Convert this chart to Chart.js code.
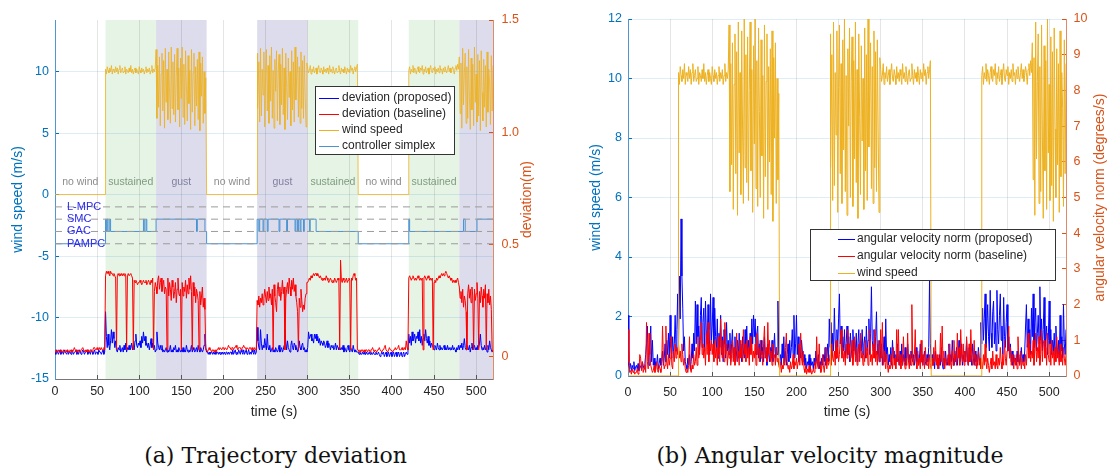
<!DOCTYPE html>
<html>
<head>
<meta charset="utf-8">
<script src="https://cdn.jsdelivr.net/npm/chart.js@4.4.1/dist/chart.umd.min.js"></script>
<style>
html, body { margin: 0; padding: 0; background: #fff; }
body { width: 1107px; height: 471px; position: relative; overflow: hidden; }
canvas { position: absolute; top: 0; }
#cA { left: 0; }
#cB { left: 553px; }
.cap { position: absolute; font-family: "DejaVu Serif", serif; font-size: 22px; line-height: 22px;
       color: #111; white-space: nowrap; transform: translateX(-50%); }
</style>
</head>
<body>
<canvas id="cA" width="553" height="430"></canvas>
<canvas id="cB" width="554" height="430"></canvas>
<div class="cap" style="left:275.5px; top:445px;">(a) Trajectory deviation</div>
<div class="cap" style="left:830px; top:445px;">(b) Angular velocity magnitude</div>
<script>
// ---------- time axis ----------
const timeMax = 520;
const timeTickStep = 50;

// ---------- wind profile (m/s), one sample per second ----------
const windSustained1 = [ // 60-119 s
  10.2,9.8,10.4,10.1,9.9,10.3,10.0,10.5,9.8,10.2, 10.1,9.9,10.4,10.0,10.3,9.8,10.2,10.5,9.9,10.1,
  10.3,9.9,10.0,10.4,9.8,10.2,10.1,9.9,10.3,10.0, 10.5,9.9,10.2,9.8,10.1,10.3,9.9,10.2,10.0,9.8,
  10.4,10.1,9.9,10.3,10.0,10.2,9.8,10.1,10.4,9.9, 10.2,10.0,10.3,9.8,10.1,10.5,9.9,10.2,10.0,10.3];
const windGust1 = [ // 120-179 s
  11.8,6.2,10.5,7.1,11.2,5.6,9.8,11.5,6.8,10.9, 5.4,11.9,7.5,10.2,6.1,11.6,8.3,5.8,12.0,7.0,
  10.8,6.5,11.4,5.9,9.6,11.9,6.9,10.3,5.5,11.1, 7.8,12.0,6.3,10.6,5.7,11.7,8.9,6.0,11.3,7.4,
  10.1,5.3,11.8,6.7,9.9,11.5,5.6,10.4,7.2,11.0, 6.1,11.6,5.2,10.7,8.0,11.2,5.8,10.0,6.6,9.5];
const windGust2 = [ // 240-299 s
  11.5,7.0,10.8,5.9,11.9,6.4,10.2,8.1,11.6,5.5, 9.7,11.8,6.8,10.5,5.8,11.3,7.6,12.0,6.2,10.1,
  5.4,11.0,8.4,11.7,6.0,9.9,11.4,5.7,10.6,7.3, 11.9,6.5,10.3,5.3,11.5,8.7,6.1,11.1,7.9,10.0,
  5.6,11.7,6.9,10.8,5.9,12.0,7.7,9.6,11.2,6.3, 10.4,5.8,11.6,7.0,10.9,6.2,11.3,8.2,5.5,10.7];
const windSustained2 = [ // 300-359 s
  10.3,9.9,10.1,10.5,9.8,10.2,10.0,10.4,9.9,10.1, 10.3,9.8,10.2,10.5,10.0,9.9,10.3,10.1,9.8,10.4,
  10.0,10.2,9.9,10.3,10.1,9.8,10.5,10.0,10.2,9.9, 10.4,10.1,9.8,10.2,10.3,9.9,10.0,10.5,10.1,9.8,
  10.3,10.0,10.2,9.9,10.4,10.1,9.8,10.3,10.0,10.2, 9.9,10.5,10.1,10.3,9.8,10.2,10.4,10.0,10.3,10.6];
const windSustained3 = [ // 420-479 s
  10.1,10.4,9.8,10.2,10.0,10.5,9.9,10.3,10.1,9.8, 10.2,10.4,10.0,9.9,10.3,10.1,10.5,9.8,10.2,10.0,
  10.4,9.9,10.1,10.3,9.8,10.2,10.5,10.0,9.9,10.3, 10.1,10.4,9.8,10.2,10.0,10.3,9.9,10.5,10.1,10.2,
  9.8,10.3,10.0,10.4,10.1,9.9,10.2,10.5,10.0,10.3, 9.9,10.1,10.4,10.2,9.8,10.3,10.5,10.1,10.6,10.2];
const windGust3 = [ // 480-520 s
  11.2,6.6,10.7,5.4,11.9,7.3,9.9,11.5,5.8,10.4, 6.2,11.8,8.0,5.3,11.1,6.9,10.6,5.6,12.0,7.5,
  9.8,5.9,11.4,6.4,10.9,5.2,11.7,8.3,6.0,11.0, 7.1,10.5,5.5,11.6,6.7,10.2,9.0,5.7,11.3,6.8,10.5];
const calmStarts = [0, 180, 360];   // no-wind phases, 60 s each
const calmLength = 60;

// ---------- test phases ----------
const phaseStarts = [0, 60, 120, 180, 240, 300, 360, 420, 480];
const phaseEnds   = [60, 120, 180, 240, 300, 360, 420, 480, 520];
const phaseKinds  = ['calm','sustained','gust','calm','gust','sustained','calm','sustained','gust'];
const phaseLabels = ['no wind','sustained','gust','no wind','gust','sustained','no wind','sustained',''];

// ---------- controller simplex (change points) ----------
const controllerNames  = ['L-MPC', 'SMC', 'GAC', 'PAMPC'];
const controllerLevels = [-1, -2, -3, -4];
const simplexTimes  = [0,60,61,62,63,65,66,105,106,108,109,120,168,169,178,180,
                       240,242,243,247,248,252,253,266,267,275,276,285,286,288,289,291,292,295,296,302,303,310,
                       360,420,421,485,487,501,520];
const simplexLevels = [-4,-2,-3,-2,-3,-2,-3,-2,-3,-2,-3,-2,-3,-2,-3,-4,
                       -2,-3,-2,-3,-2,-3,-2,-3,-2,-3,-2,-3,-2,-3,-2,-3,-2,-3,-2,-3,-2,-3,
                       -4,-2,-3,-2,-3,-2,-2];

// ---------- trajectory deviation (cm), one sample per second, 0-520 s ----------
const devProposedCm = [
  2,1,3,2,1,2,3,1,2,2, 1,3,2,2,1,3,1,2,2,1, 3,2,1,2,2,3,1,2,1,3, 2,1,2,3,2,1,2,2,3,1,
  2,2,1,3,2,1,2,3,1,2, 2,1,3,2,2,1,2,3,1,2, 20,9,4,10,5,3,7,12,6,11, 8,4,7,3,2,4,3,5,2,3,
  4,2,5,3,6,2,4,3,5,3, 4,6,3,5,3,7,10,5,4,6, 5,7,4,9,6,11,7,9,5,6, 4,6,3,5,8,4,6,3,5,2,
  3,11,6,4,3,5,3,5,2,3, 2,3,4,2,3,2,3,5,2,3, 2,4,3,5,2,3,2,4,3,2, 3,2,4,2,3,2,5,3,2,3,
  2,3,5,2,4,3,2,3,4,2, 5,3,2,4,3,2,3,5,10,4, 2,2,1,2,1,2,2,1,2,1, 2,1,2,2,1,2,1,2,1,2,
  1,2,1,2,2,1,2,1,2,2, 1,3,1,2,3,1,2,1,3,2, 1,3,2,1,3,1,2,3,1,2, 3,1,2,1,3,2,1,3,1,2,
  13,7,4,3,12,6,3,5,4,8, 5,3,10,4,3,5,2,3,4,2, 3,2,4,3,2,3,5,2,3,4, 2,3,5,12,6,3,7,4,3,2,
  5,7,4,3,6,5,3,4,2,3, 7,4,3,5,6,3,4,2,3,2, 4,11,8,9,10,7,8,6,10,8, 10,7,9,6,8,5,7,6,5,7,
  6,4,5,7,4,6,5,3,5,4, 5,3,4,6,3,5,4,3,4,3, 4,3,5,2,4,3,2,4,5,3, 2,4,3,2,5,3,2,3,2,2,
  2,1,2,1,1,2,1,2,1,1, 2,1,1,2,1,2,1,1,2,1, 1,2,1,1,2,1,0,1,2,1, 2,0,1,2,0,1,2,0,1,2,
  0,1,2,0,1,2,0,1,2,0, 1,2,0,1,2,0,1,2,1,2, 10,6,9,5,11,7,8,10,6,9, 8,11,7,12,6,9,5,8,10,7,
  12,8,6,9,5,7,4,6,5,4, 3,5,4,3,6,4,3,5,3,4, 3,4,5,3,4,3,5,3,4,3, 4,3,5,3,4,3,2,4,3,5,
  3,5,4,6,3,5,8,4,3,5, 4,3,5,2,4,6,3,4,5,3, 4,3,5,4,6,10,5,3,4,3, 5,3,4,2,5,3,7,4,3,2, 3];
const devBaselineCm = [
  2,3,2,2,3,2,2,3,2,2, 3,2,2,3,2,3,2,2,3,2, 3,2,3,4,3,2,3,2,3,2, 2,3,3,4,3,2,3,2,3,2,
  3,2,3,3,2,3,4,4,3,3, 4,3,3,4,3,4,3,3,4,3, 36,38,37,38,37,36,38,37,37,36, 37,36,35,3,36,37,36,37,36,37,
  36,37,36,37,36,3,36,37,36,36, 37,36,35,3,34,33,34,33,32,33, 33,34,33,32,33,34,33,33,34,32, 33,34,33,32,34,33,35,3,29,33,
  31,28,34,36,30,33,35,29,32,34, 28,31,30,3,35,27,33,30,25,34, 31,26,29,33,24,30,35,28,27,30, 3,33,27,31,29,34,26,32,28,35,
  30,36,29,3,33,27,31,24,30,28, 25,3,29,23,27,31,22,26,21,3, 3,2,3,4,3,3,2,3,3,2, 3,2,3,3,4,3,4,4,3,4,
  4,3,4,4,3,4,5,4,4,3, 4,4,3,4,4,5,4,3,4,4, 4,3,4,4,5,4,4,3,4,4, 3,4,4,3,4,3,3,4,3,3,
  25,23,27,22,26,24,28,23,26,30, 27,24,29,25,31,26,28,23,30,3, 32,27,24,20,30,33,27,31,25,29, 34,28,31,3,26,30,33,28,35,31,
  27,34,30,35,29,32,27,24,20,3, 26,22,30,25,20,23,21,26,28,33, 33,34,35,34,36,35,36,37,36,37, 37,36,37,36,35,36,35,34,35,34,
  35,34,36,35,34,33,34,35,34,33, 34,33,35,34,33,34,35,34,3,43, 34,33,35,34,33,34,35,33,34,35, 34,3,35,34,36,37,36,34,35,3,
  3,2,3,2,3,3,2,3,2,3, 3,2,3,3,2,3,3,4,3,2, 3,3,2,3,3,4,3,3,2,3, 3,4,5,3,3,2,3,4,3,3,
  3,2,3,3,4,3,3,4,5,3, 3,3,4,3,3,4,3,7,4,3, 35,36,35,34,35,36,35,34,35,34, 35,36,35,34,35,34,35,3,35,36,
  35,34,35,36,35,34,35,34,35,3, 33,34,33,35,34,35,36,35,36,37, 36,37,36,37,38,37,36,35,36,35, 34,35,33,34,33,34,33,34,35,33,
  31,26,29,24,30,22,27,25,20,3, 28,32,26,30,24,31,27,3,30,25, 28,33,26,3,29,24,31,27,22,30, 26,32,3,28,24,30,23,27,21,3, 2];

// ---------- angular velocity norm (deg/s), one sample per second, 0-520 s ----------
const angProposed = [
  1.7,0.3,0.2,0.35,0.15,0.3,0.2,0.4,0.15,0.25, 0.3,0.2,0.35,0.15,0.3,0.25,0.2,0.4,0.3,0.2,
  0.35,0.6,0.9,1.4,0.5,0.3,0.8,1.4,0.4,1.0, 0.3,0.5,0.2,0.4,0.3,0.6,0.2,0.35,0.5,0.3,
  0.4,0.7,0.3,0.5,0.9,0.4,1.0,0.6,1.2,0.5, 1.7,0.8,0.5,1.1,0.6,0.9,1.7,0.7,1.3,2.3,
  0.9,2.8,1.6,4.4,2.8,1.9,0.7,1.1,0.4,0.3, 0.2,0.5,0.3,0.6,0.2,0.4,0.9,0.5,1.2,0.7,
  2.1,0.9,2.0,1.1,1.4,0.6,1.7,2.2,0.8,1.5, 1.9,0.7,2.1,1.2,0.9,2.0,1.3,0.6,2.3,1.0,
  1.4,2.2,0.8,1.9,1.1,0.7,1.6,0.5,1.2,0.8, 1.7,0.6,1.1,0.4,1.3,0.9,0.5,1.5,0.7,1.0,
  0.6,1.2,0.4,0.9,1.3,0.5,0.8,1.1,0.4,0.7, 1.0,0.5,1.2,0.6,0.9,0.4,1.1,0.7,0.5,1.3,
  0.8,1.4,0.6,1.0,0.5,1.2,0.7,1.6,0.9,1.7, 1.1,1.6,0.6,1.2,1.4,0.5,0.9,0.4,1.0,0.6,
  0.8,0.4,1.1,0.5,0.7,0.3,0.9,0.6,0.4,0.8, 0.5,1.0,0.4,0.7,1.2,0.5,0.8,0.6,2.1,0.7,
  0.4,0.6,0.3,0.9,0.5,1.1,0.4,0.7,0.3,0.6, 0.9,0.4,1.0,0.5,0.8,1.3,0.6,1.7,0.5,0.9,
  1.7,0.6,1.1,0.4,0.8,0.5,1.0,0.7,0.4,0.6, 0.3,0.5,0.2,0.4,0.3,0.6,0.2,0.5,0.3,0.4,
  0.2,0.5,0.3,0.7,0.4,0.3,0.6,0.2,0.4,0.3, 0.5,0.3,0.6,0.4,0.8,0.3,0.5,0.9,0.4,1.6,
  0.8,1.5,0.6,1.2,0.7,1.9,1.0,0.5,1.3,0.8, 1.6,2.3,0.9,1.4,0.6,1.1,0.7,1.3,0.5,0.9,
  1.4,0.6,1.1,0.4,1.2,0.8,0.5,1.3,0.7,1.0, 0.6,1.2,0.4,0.9,1.3,0.5,1.0,0.7,1.3,0.6,
  0.9,1.1,0.5,1.4,0.7,1.0,1.6,0.6,1.2,2.5, 1.0,0.7,1.3,0.5,1.1,1.8,0.6,0.9,0.4,1.0,
  0.5,0.9,0.3,0.7,1.1,0.4,1.6,0.6,0.8,0.3, 0.6,0.4,0.8,0.3,1.0,0.5,0.7,0.3,0.6,0.4,
  0.9,0.5,0.3,0.7,0.4,0.9,0.3,0.6,0.4,0.8, 0.3,0.5,0.9,0.4,0.6,0.3,0.7,0.5,0.4,0.6,
  0.3,0.5,0.8,0.4,0.6,0.3,0.5,0.9,0.4,0.6, 0.3,0.5,0.7,0.4,0.3,0.6,0.4,0.8,2.7,0.9,
  0.4,0.6,0.3,0.5,0.2,0.7,0.4,0.3,0.5,0.2, 0.6,0.3,0.8,0.4,0.2,0.5,0.3,0.7,0.4,0.3,
  0.5,0.9,0.3,0.6,0.4,1.0,0.5,0.3,0.7,0.4, 0.8,0.3,0.6,1.0,0.4,0.5,0.9,0.3,0.6,0.4,
  0.7,0.4,1.0,0.5,0.3,0.8,0.4,0.6,0.3,0.9, 0.5,0.3,0.7,0.4,0.6,0.3,0.8,0.5,0.4,1.5,
  0.9,1.9,1.0,1.6,2.3,0.8,1.4,2.0,1.1,0.7, 2.4,1.2,0.8,1.8,2.1,0.9,1.5,0.7,2.4,1.3,
  0.9,1.7,2.3,1.0,1.4,0.6,2.2,1.1,0.8,1.5, 2.0,0.7,1.1,0.5,0.9,0.4,0.7,0.3,0.6,0.4,
  0.5,0.3,0.7,0.4,0.6,0.3,0.5,0.8,0.4,0.6, 0.4,0.7,1.4,2.0,0.8,1.6,0.9,1.3,0.6,1.9,
  1.1,2.3,0.8,1.5,1.9,0.7,1.2,1.7,0.9,2.5, 1.0,1.6,0.7,1.3,2.2,0.8,1.1,1.4,0.6,1.0,
  2.1,0.9,1.3,0.6,1.0,0.7,1.2,0.5,1.4,0.8, 0.6,1.0,0.4,1.7,0.7,1.1,0.5,2.0,0.9,0.6, 1.3];
const angBaseline = [
  1.3,0.4,0.1,0.15,0.05,0.2,0.1,0.15,0.05,0.1, 0.1,0.2,0.05,0.1,0.6,0.5,0.15,0.4,0.1,0.2,
  0.3,0.1,1.5,0.4,0.2,1.2,0.6,0.3,0.2,0.1, 0.15,0.3,0.1,0.2,0.4,0.15,0.1,0.3,0.2,0.1,
  0.3,1.4,0.5,0.2,0.3,1.4,0.4,0.2,0.6,0.3, 0.5,1.1,0.3,0.2,0.7,0.4,0.9,0.5,0.8,0.6,
  0.9,0.5,0.7,0.4,0.9,0.6,0.3,0.5,0.2,0.1, 0.2,0.1,0.3,1.1,0.2,0.1,0.3,0.2,0.6,0.3,
  0.4,0.8,0.3,1.1,0.5,0.7,1.0,1.5,0.6,0.9, 0.5,0.8,0.3,1.2,0.6,1.5,0.4,0.9,0.7,1.0,
  0.6,0.9,0.4,1.0,0.5,0.8,0.3,1.1,0.6,0.4, 1.6,0.7,0.5,1.0,0.4,1.5,0.6,0.9,0.3,0.7,
  0.5,0.9,0.3,0.6,1.0,0.4,0.8,0.3,0.6,1.2, 0.4,0.7,0.3,1.0,0.5,0.8,0.4,1.3,0.6,0.9,
  0.4,1.0,0.5,0.8,0.3,1.1,0.6,0.9,0.4,0.7, 0.5,0.9,0.3,1.2,0.6,0.8,0.4,1.0,0.5,0.7,
  0.3,0.9,1.4,0.5,0.8,0.4,1.5,0.6,1.0,0.4, 0.7,0.3,0.9,0.5,0.6,0.3,0.8,0.4,0.5,0.3,
  0.2,0.4,0.1,0.3,0.2,0.5,0.3,0.8,1.2,0.4, 0.2,0.3,0.1,0.4,0.2,0.3,0.6,0.2,0.4,0.3,
  0.5,0.2,0.4,0.9,0.3,1.2,0.5,0.3,0.7,0.2, 0.1,0.3,0.05,0.2,0.1,0.3,0.1,0.2,0.05,0.1,
  0.2,0.1,0.4,0.2,1.1,0.3,0.2,0.9,0.3,0.1, 0.2,0.6,0.3,0.1,0.4,0.8,0.2,0.5,0.3,0.4,
  0.6,0.3,0.9,0.5,0.4,0.7,0.3,1.0,0.5,0.8, 0.4,0.6,1.0,1.3,0.5,0.8,0.4,0.7,0.3,0.9,
  0.5,1.3,0.6,0.9,0.4,0.7,1.0,0.3,0.6,1.1, 0.4,0.8,0.3,0.6,0.9,0.4,1.2,0.5,0.7,0.3,
  0.6,0.4,1.0,0.5,0.8,0.3,0.7,1.3,0.4,0.6, 0.3,0.9,0.5,1.3,0.4,0.7,0.3,1.0,0.6,0.4,
  1.3,0.5,1.5,0.3,0.7,0.4,0.2,0.6,0.3,0.1, 0.3,0.2,0.6,0.4,0.2,0.8,0.3,0.5,0.2,1.3,
  0.4,1.3,0.3,0.6,0.2,0.5,0.3,1.1,0.4,0.2, 0.5,0.3,1.2,0.4,0.2,0.6,0.3,2.0,0.5,0.3,
  0.6,1.3,0.4,0.2,0.7,0.3,0.5,0.2,1.0,0.4, 0.3,0.6,0.2,0.8,0.4,0.3,0.5,0.2,0.6,0.3,
  0.2,0.5,0.3,0.8,0.4,1.0,0.3,0.6,0.2,0.5, 0.3,1.2,0.4,1.4,0.3,0.7,0.2,0.5,0.3,0.4,
  0.6,0.3,0.9,0.4,0.2,0.7,0.3,1.0,0.4,0.6, 0.3,1.2,0.5,0.8,0.3,1.3,0.6,0.4,0.9,0.3,
  0.7,0.4,1.1,0.5,0.3,0.9,0.4,1.3,0.6,0.3, 0.5,1.0,0.3,0.6,0.2,0.4,0.7,0.3,0.5,0.2,
  0.4,0.2,0.6,0.3,0.9,0.4,0.2,0.5,0.3,0.1, 0.3,0.5,0.2,0.7,0.3,0.4,0.2,0.6,0.3,0.2,
  0.5,0.3,0.8,0.4,0.2,0.6,0.3,1.0,0.5,0.3, 0.7,1.0,1.4,0.5,0.8,0.3,0.6,0.4,0.2,0.5,
  0.3,0.6,0.2,1.1,0.4,0.3,0.7,0.2,0.5,0.3, 0.4,0.2,0.6,0.3,0.8,1.2,0.5,0.9,0.4,0.7,
  0.5,1.0,0.3,0.7,1.2,0.4,0.8,0.5,1.1,0.3, 0.6,1.3,0.4,0.9,1.0,0.5,0.8,0.3,1.2,0.6,
  0.4,0.9,0.3,1.0,0.5,0.7,0.3,0.8,0.4,1.1, 0.5,0.7,0.3,0.9,0.4,0.6,0.3,0.8,0.5,0.3, 0.6];

// ---------- colours ----------
const C_BLUE_AXIS = '#0072BD';
const C_ORANGE_AXIS = '#D95319';
const C_WIND = '#EDB120';
const C_PROPOSED = '#0000FF';
const C_BASELINE = '#FF0000';
const C_SIMPLEX = '#4A93D3';
const FONT = '"Liberation Sans", Arial, Helvetica, sans-serif';

// ---------- series builders ----------
function perSecond(values, scale) {
  return values.map((v, i) => ({ x: i, y: v * scale }));
}
function windPoints() {
  const pieces = [[60, windSustained1], [120, windGust1], [240, windGust2],
                  [300, windSustained2], [420, windSustained3], [480, windGust3]];
  const pts = [];
  calmStarts.forEach(s => pieces.push([s, null]));
  pieces.sort((a, b) => a[0] - b[0]);
  pieces.forEach(([start, vals]) => {
    if (vals === null) {
      pts.push({ x: start, y: 0 }, { x: start + calmLength, y: 0 });
    } else {
      vals.forEach((v, i) => pts.push({ x: start + i, y: v }));
    }
  });
  return pts;
}
function simplexPoints() {
  return simplexTimes.map((t, i) => ({ x: t, y: simplexLevels[i] }));
}

function lineDs(data, color, axis, order, extra) {
  return Object.assign({ data, borderColor: color, borderWidth: 1, pointRadius: 0,
    tension: 0, yAxisID: axis, order, fill: false }, extra || {});
}

function drawRotated(ctx, text, x, y, color, font) {
  ctx.save();
  ctx.translate(x, y);
  ctx.rotate(-Math.PI / 2);
  ctx.fillStyle = color; ctx.font = font;
  ctx.textAlign = 'center'; ctx.textBaseline = 'middle';
  ctx.fillText(text, 0, 0);
  ctx.restore();
}
function drawLegend(ctx, box, rows, sampleX0, sampleX1, textX) {
  ctx.save();
  ctx.fillStyle = '#fff';
  ctx.fillRect(box.x, box.y, box.w, box.h);
  ctx.strokeStyle = '#333'; ctx.lineWidth = 1;
  ctx.strokeRect(box.x + 0.5, box.y + 0.5, box.w, box.h);
  ctx.font = '12px ' + FONT; ctx.textBaseline = 'middle'; ctx.textAlign = 'left';
  rows.forEach(r => {
    ctx.strokeStyle = r.color; ctx.beginPath();
    ctx.moveTo(sampleX0, Math.round(r.y) + 0.5); ctx.lineTo(sampleX1, Math.round(r.y) + 0.5); ctx.stroke();
    ctx.fillStyle = '#262626'; ctx.fillText(r.label, textX, r.y);
  });
  ctx.restore();
}

function axisCommon(extra) {
  return Object.assign({ type: 'linear' }, extra);
}

// ---------- (a) trajectory deviation ----------
const shadeColors = { sustained: '#e6f4e6', gust: '#dddcec' };
const labelColors = { calm: '#8c8c8c', sustained: '#7f9c7f', gust: '#80809e' };

const panelA = {
  id: 'panelA',
  beforeDraw(chart) {
    const { ctx, chartArea: a, scales: { x } } = chart;
    ctx.save();
    phaseStarts.forEach((s, i) => {
      const col = shadeColors[phaseKinds[i]];
      if (!col) return;
      const x0 = x.getPixelForValue(s), x1 = x.getPixelForValue(phaseEnds[i]);
      ctx.fillStyle = col;
      ctx.fillRect(x0, a.top, x1 - x0, a.bottom - a.top);
    });
    ctx.restore();
  },
  afterDatasetsDraw(chart) {
    const { ctx, chartArea: a, scales: { x, y } } = chart;
    ctx.save();
    ctx.font = '10.5px ' + FONT; ctx.textAlign = 'center'; ctx.textBaseline = 'middle';
    phaseStarts.forEach((s, i) => {
      if (!phaseLabels[i]) return;
      ctx.fillStyle = labelColors[phaseKinds[i]];
      ctx.fillText(phaseLabels[i], x.getPixelForValue((s + phaseEnds[i]) / 2), y.getPixelForValue(1));
    });
    ctx.font = '11px ' + FONT; ctx.textAlign = 'left'; ctx.fillStyle = '#2b2bf0';
    controllerNames.forEach((n, i) => ctx.fillText(n, a.left + 12, y.getPixelForValue(controllerLevels[i])));
    ctx.restore();
    drawLegend(ctx, { x: 315, y: 86, w: 139, h: 68 }, [
      { label: 'deviation (proposed)', color: C_PROPOSED, y: 98 },
      { label: 'deviation (baseline)', color: C_BASELINE, y: 114 },
      { label: 'wind speed', color: C_WIND, y: 130 },
      { label: 'controller simplex', color: C_SIMPLEX, y: 146 }
    ], 319, 339, 342);
    const mid = (a.top + a.bottom) / 2;
    drawRotated(ctx, 'wind speed (m/s)', 18.5, mid, C_BLUE_AXIS, '14px ' + FONT);
    drawRotated(ctx, 'deviation(m)', 527, mid, C_ORANGE_AXIS, '14px ' + FONT);
    ctx.save();
    ctx.font = '14px ' + FONT; ctx.fillStyle = '#262626'; ctx.textAlign = 'center'; ctx.textBaseline = 'middle';
    ctx.fillText('time (s)', (a.left + a.right) / 2, 412);
    ctx.restore();
  }
};

const dashedRefs = controllerLevels.map((lvl, i) => lineDs(
  [{ x: 0, y: lvl }, { x: timeMax, y: lvl }], '#9b9b9b', 'y', 1, { borderDash: [7, 5] }));

new Chart(document.getElementById('cA'), {
  type: 'line',
  data: {
    datasets: [
      lineDs(windPoints(), 'rgba(237,177,32,0.8)', 'y', 6),
      lineDs(perSecond(devProposedCm, 0.01), C_PROPOSED, 'y1', 4),
      lineDs(perSecond(devBaselineCm, 0.01), C_BASELINE, 'y1', 3),
      lineDs(simplexPoints(), C_SIMPLEX, 'y', 2, { stepped: true }),
      ...dashedRefs
    ]
  },
  options: {
    responsive: false, animation: false, events: [], parsing: false,
    layout: { padding: { top: 17, left: 0, right: 0, bottom: 0 } },
    plugins: { legend: { display: false }, tooltip: { enabled: false } },
    scales: {
      x: axisCommon({ position: 'bottom', min: 0, max: timeMax,
        afterFit: s => { s.height = 51; },
        ticks: { stepSize: timeTickStep, includeBounds: false, color: '#262626', font: { size: 12.5, family: FONT }, padding: 9.5, maxRotation: 0 },
        grid: { color: 'rgba(0,0,0,0.1)', tickLength: -4, tickColor: '#555' },
        border: { color: '#777', width: 1 } }),
      y: axisCommon({ position: 'left', min: -15, max: 14.2,
        afterFit: s => { s.width = 55; },
        ticks: { stepSize: 5, includeBounds: false, color: C_BLUE_AXIS, font: { size: 12.5, family: FONT }, padding: 10 },
        grid: { color: 'rgba(0,114,189,0.13)', tickLength: -4, tickColor: C_BLUE_AXIS },
        border: { color: '#4f96d2', width: 1 } }),
      y1: axisCommon({ position: 'right', min: -0.1, max: 1.5,
        afterFit: s => { s.width = 60; },
        ticks: { stepSize: 0.5, includeBounds: false, color: C_ORANGE_AXIS, font: { size: 12.5, family: FONT }, padding: 12.5 },
        grid: { drawOnChartArea: false, tickLength: -4, tickColor: C_ORANGE_AXIS },
        border: { color: '#e08a66', width: 1 } })
    }
  },
  plugins: [panelA]
});

// ---------- (b) angular velocity magnitude ----------
const panelB = {
  id: 'panelB',
  afterDatasetsDraw(chart) {
    const { ctx, chartArea: a } = chart;
    drawLegend(ctx, { x: 257, y: 229, w: 245, h: 51 }, [
      { label: 'angular velocity norm (proposed)', color: C_PROPOSED, y: 238.5 },
      { label: 'angular velocity norm (baseline)', color: C_BASELINE, y: 255.5 },
      { label: 'wind speed', color: C_WIND, y: 272.5 }
    ], 285, 302, 304);
    const mid = (a.top + a.bottom) / 2;
    drawRotated(ctx, 'wind speed (m/s)', 43, mid, C_BLUE_AXIS, '14px ' + FONT);
    drawRotated(ctx, 'angular velocity norm (degrees/s)', 547, mid, C_ORANGE_AXIS, '14px ' + FONT);
    ctx.save();
    ctx.font = '14px ' + FONT; ctx.fillStyle = '#262626'; ctx.textAlign = 'center'; ctx.textBaseline = 'middle';
    ctx.fillText('time (s)', (a.left + a.right) / 2, 412);
    ctx.restore();
  }
};

new Chart(document.getElementById('cB'), {
  type: 'line',
  data: {
    datasets: [
      lineDs(perSecond(angProposed, 1), C_PROPOSED, 'y1', 3),
      lineDs(perSecond(angBaseline, 1), C_BASELINE, 'y1', 2),
      lineDs(windPoints(), C_WIND, 'y', 1)
    ]
  },
  options: {
    responsive: false, animation: false, events: [], parsing: false,
    layout: { padding: { top: 17, left: 0, right: 0, bottom: 0 } },
    plugins: { legend: { display: false }, tooltip: { enabled: false } },
    scales: {
      x: axisCommon({ position: 'bottom', min: 0, max: timeMax,
        afterFit: s => { s.height = 54; },
        ticks: { stepSize: timeTickStep, includeBounds: false, color: '#262626', font: { size: 12.5, family: FONT }, padding: 13.5, maxRotation: 0 },
        grid: { color: 'rgba(0,0,0,0.1)', tickLength: -4, tickColor: '#555' },
        border: { color: '#777', width: 1 } }),
      y: axisCommon({ position: 'left', min: 0, max: 12,
        afterFit: s => { s.width = 75; },
        ticks: { stepSize: 2, includeBounds: false, color: C_BLUE_AXIS, font: { size: 12.5, family: FONT }, padding: 10 },
        grid: { color: 'rgba(0,114,189,0.13)', tickLength: -4, tickColor: C_BLUE_AXIS },
        border: { color: '#4f96d2', width: 1 } }),
      y1: axisCommon({ position: 'right', min: 0, max: 10,
        afterFit: s => { s.width = 41; },
        ticks: { stepSize: 1, includeBounds: false, color: C_ORANGE_AXIS, font: { size: 12.5, family: FONT }, padding: 11.5 },
        grid: { drawOnChartArea: false, tickLength: -4, tickColor: C_ORANGE_AXIS },
        border: { color: '#e08a66', width: 1 } })
    }
  },
  plugins: [panelB]
});
</script>
</body>
</html>
